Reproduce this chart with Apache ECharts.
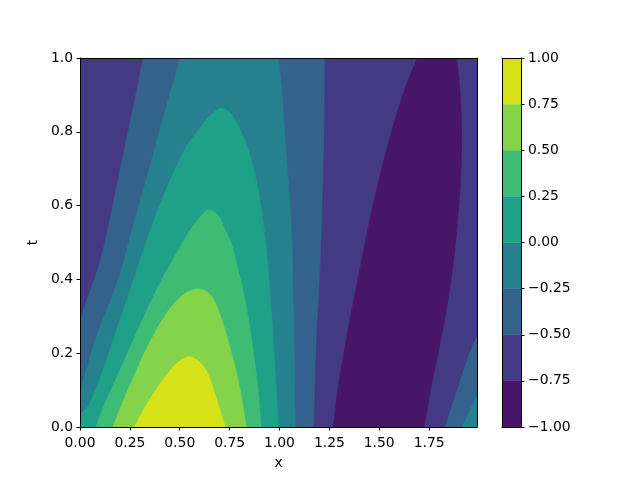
<!DOCTYPE html>
<html><head><meta charset="utf-8">
<script src="https://cdn.jsdelivr.net/npm/echarts@6/dist/echarts.min.js"></script>
<style>html,body{margin:0;padding:0;background:#fff}#c{width:640px;height:480px}</style>
</head><body><div id="c"></div>
<script>
// ---- axis / level data ----
const xTicks = [0, 0.25, 0.5, 0.75, 1.0, 1.25, 1.5, 1.75];
const tTicks = [0, 0.2, 0.4, 0.6, 0.8, 1.0];
const levels = [-1, -0.75, -0.5, -0.25, 0, 0.25, 0.5, 0.75, 1];
const bandColors = ['#481668', '#443a83', '#33638d', '#26818e', '#1fa088', '#3fbc73', '#84d44b', '#d8e219'];
const X_MIN = 0, X_MAX = 1.99, T_MIN = 0, T_MAX = 1;

// ---- contour lines, [x, t] ----
// level 0.75 (dome)
const c075 = [[0.273,0],[0.302,0.03],[0.335,0.062],[0.38,0.10],[0.435,0.142],[0.49,0.175],[0.54,0.19],[0.585,0.182],[0.625,0.16],[0.655,0.125],[0.68,0.082],[0.705,0.04],[0.728,0]];
// level 0.5 (dome)
const c050 = [[0.165,0],[0.205,0.055],[0.24,0.10],[0.282,0.152],[0.322,0.20],[0.365,0.245],[0.412,0.29],[0.47,0.333],[0.53,0.363],[0.59,0.374],[0.64,0.365],[0.68,0.335],[0.715,0.283],[0.743,0.232],[0.767,0.185],[0.788,0.138],[0.806,0.09],[0.82,0.045],[0.833,0]];
// level 0.25 (dome)
const c025 = [[0.08,0],[0.125,0.064],[0.20,0.154],[0.275,0.245],[0.35,0.335],[0.42,0.41],[0.47,0.458],[0.52,0.505],[0.56,0.54],[0.60,0.568],[0.642,0.588],[0.69,0.575],[0.725,0.538],[0.762,0.49],[0.795,0.42],[0.822,0.358],[0.845,0.29],[0.865,0.22],[0.882,0.15],[0.896,0.08],[0.908,0]];
// level 0 (from left edge over dome to bottom)
const c000 = [[0,0.035],[0.048,0.064],[0.115,0.154],[0.172,0.245],[0.228,0.335],[0.268,0.40],[0.298,0.448],[0.355,0.538],[0.42,0.629],[0.495,0.719],[0.545,0.77],[0.60,0.809],[0.655,0.845],[0.708,0.864],[0.755,0.85],[0.80,0.809],[0.835,0.765],[0.865,0.71],[0.898,0.629],[0.922,0.538],[0.94,0.448],[0.953,0.358],[0.964,0.27],[0.975,0.18],[0.985,0.09],[0.995,0]];
// level -0.25
const cm025Left = [[0,0.091],[0.032,0.154],[0.082,0.245],[0.148,0.335],[0.207,0.425],[0.25,0.511],[0.306,0.62],[0.357,0.719],[0.45,0.90],[0.505,1]];
const cm025Right = [[0.995,1],[1.012,0.90],[1.033,0.745],[1.05,0.62],[1.062,0.50],[1.068,0.35],[1.073,0.20],[1.078,0]];
const cm025Corner = [[1.917,0],[1.95,0.04],[1.99,0.084]];
// level -0.5
const cm050Left = [[0,0.285],[0.04,0.353],[0.087,0.425],[0.125,0.50],[0.183,0.65],[0.245,0.809],[0.28,0.90],[0.317,1]];
const cm050Right = [[1.225,1],[1.222,0.80],[1.215,0.65],[1.207,0.50],[1.195,0.35],[1.183,0.236],[1.17,0]];
const cm050Corner = [[1.83,0],[1.86,0.05],[1.892,0.102],[1.947,0.192],[1.99,0.245]];
// level -0.75 (closed dark band)
const cm075Left = [[1.27,0],[1.292,0.102],[1.32,0.192],[1.35,0.283],[1.383,0.373],[1.416,0.463],[1.45,0.554],[1.487,0.644],[1.528,0.734],[1.575,0.825],[1.628,0.915],[1.69,1]];
const cm075Right = [[1.725,0],[1.758,0.102],[1.792,0.192],[1.825,0.283],[1.853,0.373],[1.875,0.463],[1.892,0.554],[1.905,0.644],[1.912,0.734],[1.912,0.825],[1.904,0.915],[1.888,1]];

// ---- regions painted in order (superlevel sets); pieces: curve = contour line, corner = domain corner ----
const regions = [
  {band: 1, pieces: [{corner: [X_MIN,T_MIN]}, {corner: [X_MAX,T_MIN]}, {corner: [X_MAX,T_MAX]}, {corner: [X_MIN,T_MAX]}]},
  {band: 0, pieces: [{curve: cm075Left}, {curve: cm075Right.slice().reverse()}]},
  {band: 2, pieces: [{corner: [X_MIN,T_MIN]}, {curve: cm050Left}, {curve: cm050Right}]},
  {band: 2, pieces: [{curve: cm050Corner}, {corner: [X_MAX,T_MIN]}]},
  {band: 3, pieces: [{corner: [X_MIN,T_MIN]}, {curve: cm025Left}, {curve: cm025Right}]},
  {band: 3, pieces: [{curve: cm025Corner}, {corner: [X_MAX,T_MIN]}]},
  {band: 4, pieces: [{corner: [X_MIN,T_MIN]}, {curve: c000}]},
  {band: 5, pieces: [{curve: c025}]},
  {band: 6, pieces: [{curve: c050}]},
  {band: 7, pieces: [{curve: c075}]}
];

// build an SVG path through pixel points (Catmull-Rom drawn as cubic Beziers)
function buildPath(pieces, api) {
  let d = '';
  let first = true;
  const f = v => v.toFixed(2);
  pieces.forEach(pc => {
    if (pc.corner) {
      const p = api.coord(pc.corner);
      d += (first ? 'M' : 'L') + f(p[0]) + ' ' + f(p[1]) + ' ';
      first = false;
    } else {
      const P = pc.curve.map(q => api.coord(q));
      d += (first ? 'M' : 'L') + f(P[0][0]) + ' ' + f(P[0][1]) + ' ';
      first = false;
      for (let i = 0; i < P.length - 1; i++) {
        const p0 = P[Math.max(i - 1, 0)], p1 = P[i], p2 = P[i + 1], p3 = P[Math.min(i + 2, P.length - 1)];
        const c1 = [p1[0] + (p2[0] - p0[0]) / 6, p1[1] + (p2[1] - p0[1]) / 6];
        const c2 = [p2[0] - (p3[0] - p1[0]) / 6, p2[1] - (p3[1] - p1[1]) / 6];
        d += 'C' + f(c1[0]) + ' ' + f(c1[1]) + ' ' + f(c2[0]) + ' ' + f(c2[1]) + ' ' + f(p2[0]) + ' ' + f(p2[1]) + ' ';
      }
    }
  });
  return d + 'Z';
}

const FONT = 'DejaVu Sans';
const FS = 13.9;
const lbl = {color: '#000', fontSize: FS, fontFamily: FONT};
const line = {show: true, onZero: false, lineStyle: {color: '#000', width: 1}};
const tick = {show: true, length: 3.5, lineStyle: {color: '#000', width: 1}};
const minus = v => (v < 0 ? '\u2212' : '') + Math.abs(v).toFixed(2);

const chart = echarts.init(document.getElementById('c'), null, {renderer: 'canvas'});
chart.setOption({
  animation: false,
  backgroundColor: '#fff',
  grid: [
    {left: 80, top: 58, width: 397, height: 369},
    {left: 502, top: 58, width: 19, height: 369}
  ],
  xAxis: [
    {gridIndex: 0, type: 'value', min: X_MIN, max: X_MAX, interval: 0.25, position: 'bottom', z: 10,
     axisLine: line, axisTick: Object.assign({customValues: xTicks}, tick),
     axisLabel: Object.assign({customValues: xTicks, margin: 9, formatter: v => v.toFixed(2)}, lbl),
     splitLine: {show: false}, name: 'x', nameLocation: 'middle', nameGap: 29, nameTextStyle: lbl},
    {gridIndex: 0, type: 'value', min: X_MIN, max: X_MAX, position: 'top', z: 10,
     axisLine: line, axisTick: {show: false}, axisLabel: {show: false}, splitLine: {show: false}},
    {gridIndex: 1, type: 'value', min: 0, max: 1, position: 'bottom', z: 10,
     axisLine: line, axisTick: {show: false}, axisLabel: {show: false}, splitLine: {show: false}},
    {gridIndex: 1, type: 'value', min: 0, max: 1, position: 'top', z: 10,
     axisLine: line, axisTick: {show: false}, axisLabel: {show: false}, splitLine: {show: false}}
  ],
  yAxis: [
    {gridIndex: 0, type: 'value', min: T_MIN, max: T_MAX, interval: 0.2, position: 'left', z: 10,
     axisLine: line, axisTick: Object.assign({customValues: tTicks}, tick),
     axisLabel: Object.assign({customValues: tTicks, margin: 7, formatter: v => v.toFixed(1)}, lbl),
     splitLine: {show: false}, name: 't', nameLocation: 'middle', nameGap: 38, nameTextStyle: lbl},
    {gridIndex: 0, type: 'value', min: T_MIN, max: T_MAX, position: 'right', z: 10,
     axisLine: line, axisTick: {show: false}, axisLabel: {show: false}, splitLine: {show: false}},
    {gridIndex: 1, type: 'value', min: -1, max: 1, interval: 0.25, position: 'right', z: 10,
     axisLine: line, axisTick: tick,
     axisLabel: Object.assign({margin: 7, formatter: minus}, lbl), splitLine: {show: false}},
    {gridIndex: 1, type: 'value', min: -1, max: 1, position: 'left', z: 10,
     axisLine: line, axisTick: {show: false}, axisLabel: {show: false}, splitLine: {show: false}}
  ],
  series: [
    {type: 'custom', xAxisIndex: 0, yAxisIndex: 0, clip: true, silent: true,
     data: regions.map((r, i) => [X_MIN, T_MIN, i]),
     encode: {x: 0, y: 1},
     renderItem: function (params, api) {
       const r = regions[api.value(2)];
       const c = bandColors[r.band];
       return {type: 'path', shape: {pathData: buildPath(r.pieces, api)},
               style: {fill: c, stroke: c, lineWidth: 0.6}};
     }},
    {type: 'custom', xAxisIndex: 2, yAxisIndex: 2, clip: true, silent: true,
     data: bandColors.map((c, i) => [0, levels[i], i]),
     encode: {x: 0, y: 1},
     renderItem: function (params, api) {
       const i = api.value(2);
       const a = api.coord([0, levels[i]]);
       const b = api.coord([1, levels[i + 1]]);
       return {type: 'rect', shape: {x: a[0], y: b[1], width: b[0] - a[0], height: a[1] - b[1]},
               style: {fill: bandColors[i], stroke: bandColors[i], lineWidth: 0.5}};
     }}
  ]
});
</script>
</body></html>
